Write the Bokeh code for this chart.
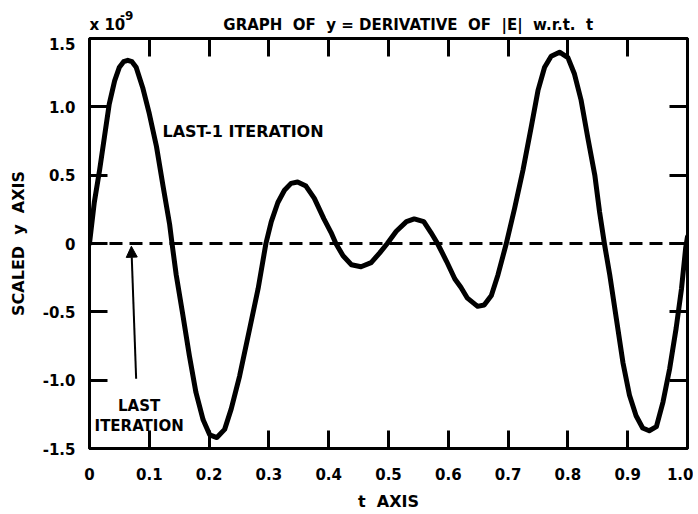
from bokeh.plotting import figure
from bokeh.layouts import column
from bokeh.models import (Range1d, LinearAxis, FixedTicker, Span, Label, Arrow,
                          NormalHead, CustomJSTickFormatter)
from bokeh.embed import file_html
from bokeh.resources import INLINE

# ---- data ----
t_vals = [0.000, 0.008, 0.017, 0.025, 0.033, 0.042, 0.050, 0.057, 0.064, 0.071,
          0.078, 0.089, 0.100, 0.112, 0.123, 0.134, 0.138, 0.145, 0.156, 0.167,
          0.178, 0.190, 0.201, 0.213, 0.226, 0.237, 0.251, 0.268, 0.282, 0.295,
          0.304, 0.315, 0.326, 0.337, 0.348, 0.362, 0.376, 0.392, 0.404, 0.412,
          0.424, 0.438, 0.454, 0.471, 0.485, 0.498, 0.513, 0.530, 0.543, 0.559,
          0.571, 0.582, 0.597, 0.611, 0.621, 0.632, 0.649, 0.660, 0.672, 0.683,
          0.697, 0.711, 0.725, 0.739, 0.750, 0.761, 0.772, 0.786, 0.800, 0.811,
          0.822, 0.833, 0.845, 0.853, 0.861, 0.870, 0.881, 0.892, 0.903, 0.914,
          0.925, 0.936, 0.948, 0.959, 0.970, 0.981, 0.990, 0.997, 1.000]
y_vals = [0.00, 0.30, 0.54, 0.78, 1.02, 1.19, 1.29, 1.33, 1.34, 1.33,
          1.29, 1.14, 0.95, 0.71, 0.42, 0.14, 0.00, -0.23, -0.52, -0.82,
          -1.09, -1.29, -1.40, -1.42, -1.36, -1.21, -0.97, -0.62, -0.33, 0.00,
          0.16, 0.30, 0.39, 0.44, 0.45, 0.42, 0.33, 0.18, 0.08, 0.00,
          -0.09, -0.155, -0.17, -0.14, -0.07, 0.00, 0.09, 0.16, 0.18, 0.16,
          0.08, 0.00, -0.13, -0.26, -0.32, -0.40, -0.46, -0.45, -0.38, -0.23,
          0.00, 0.26, 0.54, 0.86, 1.12, 1.29, 1.37, 1.40, 1.36, 1.24,
          1.05, 0.78, 0.50, 0.23, 0.00, -0.23, -0.55, -0.87, -1.11, -1.26,
          -1.35, -1.37, -1.34, -1.16, -0.92, -0.62, -0.33, -0.03, 0.05]

x_ticks = [0.0, 0.1, 0.2, 0.3, 0.4, 0.5, 0.6, 0.7, 0.8, 0.9, 1.0]
x_tick_labels = ["0", "0.1", "0.2", "0.3", "0.4", "0.5", "0.6", "0.7", "0.8", "0.9", "1.0"]
y_ticks = [-1.5, -1.0, -0.5, 0.0, 0.5, 1.0, 1.5]
y_tick_labels = ["-1.5", "-1.0", "-0.5", "0", "0.5", "1.0", "1.5"]

title_text = "GRAPH\u00a0\u00a0OF\u00a0\u00a0y\u00a0=\u00a0DERIVATIVE\u00a0\u00a0OF\u00a0\u00a0|E|\u00a0\u00a0w.r.t.\u00a0\u00a0t"
x_label = "t\u00a0\u00a0AXIS"
y_label = "SCALED\u00a0\u00a0y\u00a0\u00a0AXIS"

FONT = "DejaVu Sans"

LEFT = 89
RIGHT = 6
FW, FH = 598, 410
HEAD_H = 37
TOTAL_W = LEFT + FW + RIGHT

# ---------------- main plot ----------------
p = figure(frame_width=FW, frame_height=FH,
           x_range=Range1d(0, 1), y_range=Range1d(-1.5, 1.5),
           output_backend="svg", toolbar_location=None,
           min_border_left=LEFT, min_border_top=1, min_border_right=RIGHT,
           min_border_bottom=40)
p.background_fill_color = "white"
p.border_fill_color = "white"
p.outline_line_color = "black"
p.outline_line_width = 3
p.outline_line_alpha = 1.0
p.xgrid.grid_line_color = None
p.ygrid.grid_line_color = None


def style_axis(ax):
    ax.axis_line_color = None
    ax.major_tick_in = 18
    ax.major_tick_out = 0
    ax.major_tick_line_width = 3
    ax.major_tick_line_color = "black"
    ax.minor_tick_line_color = None
    ax.major_label_text_font = FONT
    ax.major_label_text_font_style = "bold"
    ax.major_label_text_font_size = "15px"
    ax.major_label_text_color = "black"
    ax.axis_label_text_font = FONT
    ax.axis_label_text_font_style = "bold"
    ax.axis_label_text_font_size = "16px"
    ax.axis_label_text_color = "black"


xa = p.xaxis[0]
style_axis(xa)
xa.ticker = FixedTicker(ticks=x_ticks)
xa.major_label_overrides = dict(zip(x_ticks, x_tick_labels))
xa.major_label_standoff = 19
xa.axis_label = x_label
xa.axis_label_standoff = 9

ya = p.yaxis[0]
style_axis(ya)
ya.ticker = FixedTicker(ticks=y_ticks)
ya.major_label_overrides = dict(zip(y_ticks, y_tick_labels))
ya.major_label_standoff = 14
ya.axis_label = y_label
ya.axis_label_standoff = 12

blank = CustomJSTickFormatter(code="return ''")
top_ax = LinearAxis(ticker=FixedTicker(ticks=x_ticks), formatter=blank)
style_axis(top_ax)
top_ax.major_label_standoff = 0
p.add_layout(top_ax, "above")

right_ax = LinearAxis(ticker=FixedTicker(ticks=y_ticks), formatter=blank)
style_axis(right_ax)
right_ax.major_label_standoff = 0
p.add_layout(right_ax, "right")

# dashed zero line (last iteration)
p.add_layout(Span(location=0, dimension="width", line_color="black",
                  line_width=3, line_dash="13 7"))

# curve (last-1 iteration)
p.line(t_vals, y_vals, line_color="black", line_width=5,
       line_join="round", line_cap="round")


def lab(fig, x, y, text, size="15px", align="left"):
    fig.add_layout(Label(x=x, y=y, text=text, text_font=FONT, text_font_style="bold",
                         text_font_size=size, text_color="black", text_align=align,
                         text_baseline="alphabetic"))


lab(p, 0.122, 0.82, "LAST-1 ITERATION", size="16px")
lab(p, 0.083, -1.19, "LAST", size="15px", align="center")
lab(p, 0.083, -1.335, "ITERATION", size="15px", align="center")

p.add_layout(Arrow(end=NormalHead(size=11, fill_color="black", line_color="black"),
                   x_start=0.078, y_start=-0.99, x_end=0.070, y_end=-0.02,
                   line_width=2, line_color="black"))

# ---------------- header strip with the title texts ----------------
# its frame is aligned with the main plot's frame, so x uses the same t scale
h = figure(width=TOTAL_W, height=HEAD_H, x_range=Range1d(0, 1),
           y_range=Range1d(0, HEAD_H), output_backend="svg", toolbar_location=None,
           min_border=0, x_axis_type=None, y_axis_type=None)
h.outline_line_color = None
h.xgrid.grid_line_color = None
h.ygrid.grid_line_color = None
h.background_fill_color = "white"
h.border_fill_color = "white"

lab(h, 0.533, 13, title_text, size="15px", align="center")
lab(h, 0.0, 13, "x\u00a010", size="15px")
lab(h, 0.051, 22, "-9", size="12px")

layout = column(h, p, spacing=0)
open("out.html", "w").write(file_html(layout, INLINE))
